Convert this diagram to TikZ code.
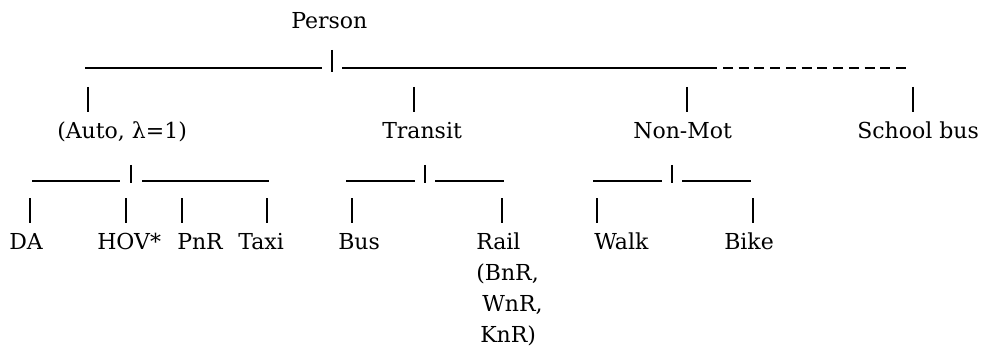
\documentclass[tikz,border=0pt]{standalone}
\usepackage{fontspec}
\setmainfont{DejaVu Serif}
\begin{document}
\begin{tikzpicture}[x=0.75pt,y=-0.75pt,
  lbl/.style={anchor=base west,inner sep=0pt,font=\fontsize{16.5}{20}\selectfont},
  bar/.style={line width=1pt},
  pipe/.style={line width=1.15pt},
  dashbar/.style={line width=1pt,dash pattern=on 7.5pt off 4.3pt}]
\useasboundingbox (0,0) rectangle (981,349);

% labels
\node[lbl] (person) at (291,29) {Person};
\node[lbl] (auto) at (57,139) {(Auto, λ=1)};
\node[lbl] (transit) at (382,139) {Transit};
\node[lbl] (nonmot) at (633,139) {Non-Mot};
\node[lbl] (school) at (857,139) {School bus};
\node[lbl] (da) at (9,249) {DA};
\node[lbl] (hov) at (97,249) {HOV*};
\node[lbl] (pnr) at (177,249) {PnR};
\node[lbl] (taxi) at (238,249) {Taxi};
\node[lbl] (bus) at (338,249) {Bus};
\node[lbl] (rail) at (476,249) {Rail};
\node[lbl] (rail2) at (476,280) {(BnR,};
\node[lbl] (rail3) at (482,311) {WnR,};
\node[lbl] (rail4) at (480,342) {KnR)};
\node[lbl] (walk) at (594,249) {Walk};
\node[lbl] (bike) at (724,249) {Bike};

% top level bar
\coordinate (tL) at (85,68);  \coordinate (tLe) at (322,68);
\coordinate (tPa) at (332,50); \coordinate (tPb) at (332,72);
\coordinate (tR) at (342,68); \coordinate (tRe) at (717,68);
\coordinate (tD) at (723,68); \coordinate (tDe) at (908,68);
\draw[bar] (tL) -- (tLe);
\draw[pipe] (tPa) -- (tPb);
\draw[bar] (tR) -- (tRe);
\draw[dashbar] (tD) -- (tDe);

% drops to the second level
\foreach \x/\n in {88/a,414/b,687/c,913/d}{
  \coordinate (s\n) at (\x,87); \coordinate (e\n) at (\x,112);
  \draw[pipe] (s\n) -- (e\n);
}

% second level bars: left part, pipe, right part
\foreach \a/\b/\p/\c/\d/\n in {32/120/131/142/269/au,346/415/425/435/504/tr,593/662/672/682/751/nm}{
  \coordinate (\n L) at (\a,181); \coordinate (\n Le) at (\b,181);
  \coordinate (\n Pa) at (\p,165); \coordinate (\n Pb) at (\p,183);
  \coordinate (\n R) at (\c,181); \coordinate (\n Re) at (\d,181);
  \draw[bar] (\n L) -- (\n Le);
  \draw[pipe] (\n Pa) -- (\n Pb);
  \draw[bar] (\n R) -- (\n Re);
}

% drops to the leaves
\foreach \x/\n in {30/da,126/hov,182/pnr,267/taxi,352/bus,502/rail,597/walk,753/bike}{
  \coordinate (u\n) at (\x,198); \coordinate (v\n) at (\x,223);
  \draw[pipe] (u\n) -- (v\n);
}
\end{tikzpicture}
\end{document}
